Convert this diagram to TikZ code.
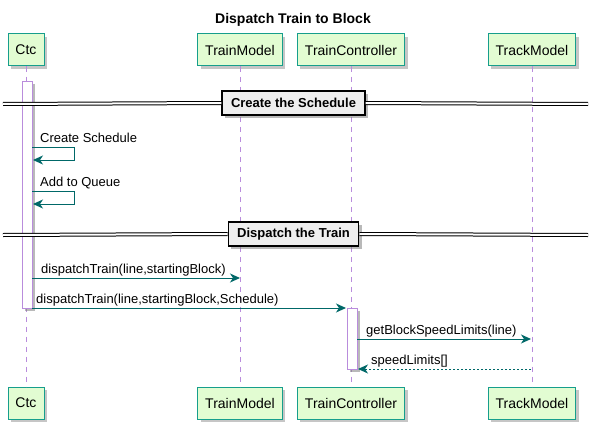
\documentclass[tikz,border=0pt]{standalone}
\usepackage{fontspec}
\setmainfont{Liberation Sans}
\usetikzlibrary{arrows.meta, positioning, shadows}
\definecolor{boxfill}{RGB}{226,252,210}
\definecolor{boxline}{RGB}{22,158,140}
\definecolor{msgline}{RGB}{0,104,104}
\definecolor{lifeline}{RGB}{185,140,220}
\definecolor{sepfill}{RGB}{238,238,238}

\begin{document}
\begin{tikzpicture}[x=1pt, y=-1pt,
  part/.style={draw=boxline, fill=boxfill, line width=1pt, minimum height=32pt, inner xsep=7.5pt,
    font=\fontsize{14}{16}\selectfont, drop shadow={shadow xshift=3pt, shadow yshift=-3pt, opacity=0.45}},
  life/.style={lifeline, line width=0.8pt, dash pattern=on 5pt off 5pt},
  actbar/.style={draw=lifeline, fill=white, line width=0.8pt, minimum width=10pt, inner sep=0pt,
    drop shadow={shadow xshift=3pt, shadow yshift=-3pt, opacity=0.55}},
  sepbox/.style={draw=black, fill=sepfill, line width=1.2pt, minimum height=24pt, inner xsep=9pt,
    font=\fontsize{13}{15}\selectfont\bfseries, drop shadow={shadow xshift=3pt, shadow yshift=-3pt, opacity=0.55}},
  sepline/.style={double, double distance=2pt, line width=1pt},
  msg/.style={msgline, line width=1pt, -{Stealth[length=10pt, width=9pt, inset=3pt]}},
  ret/.style={msg, dash pattern=on 2pt off 2pt},
  lbl/.style={anchor=base west, inner sep=0pt, font=\fontsize{13}{15}\selectfont}]
  \useasboundingbox (0,0) rectangle (594,428);
  \node[font=\fontsize{14}{16}\selectfont\bfseries] (title) at (293,20) {Dispatch Train to Block};

  \node[part] (ctcTop) at (26,50) {Ctc};
  \node[part] (tmTop) at (240,50) {TrainModel};
  \node[part] (tcTop) at (351,50) {TrainController};
  \node[part] (trTop) at (532,50) {TrackModel};
  \node[part] (ctcBot) at (26,403) {Ctc};
  \node[part] (tmBot) at (240,403) {TrainModel};
  \node[part] (tcBot) at (351,403) {TrainController};
  \node[part] (trBot) at (532,403) {TrackModel};
  \foreach \p in {ctc,tm,tc,tr}
    \draw[life] (\p Top) -- (\p Bot);

  \node[actbar, minimum height=227pt] (ctcAct) at (27,194.5) {};
  \node[actbar, minimum height=61pt] (tcAct) at (352,338.5) {};

  \node[sepbox] (sep1) at (293.5,103) {Create the Schedule};
  \coordinate (sep1L) at (3,104); \coordinate (sep1R) at (588,104);
  \draw[sepline] (sep1L) -- (sep1.west); \draw[sepline] (sep1.east) -- (sep1R);

  \coordinate (s1a) at (32,147); \coordinate (s1b) at (33,160);
  \draw[msg] (s1a) -- ++(42,0) |- (s1b);
  \node[lbl] (s1lbl) at (40,142) {Create Schedule};
  \coordinate (s2a) at (32,191); \coordinate (s2b) at (33,204);
  \draw[msg] (s2a) -- ++(42,0) |- (s2b);
  \node[lbl] (s2lbl) at (40,186) {Add to Queue};

  \node[sepbox] (sep2) at (293.5,234) {Dispatch the Train};
  \coordinate (sep2L) at (3,235); \coordinate (sep2R) at (588,235);
  \draw[sepline] (sep2L) -- (sep2.west); \draw[sepline] (sep2.east) -- (sep2R);

  \coordinate (m1a) at (32,278); \coordinate (m1b) at (240,278);
  \draw[msg] (m1a) -- (m1b);
  \node[lbl] (m1lbl) at (41,273) {dispatchTrain(line,startingBlock)};
  \coordinate (m2a) at (32,308); \coordinate (m2b) at (346,308);
  \draw[msg] (m2a) -- (m2b);
  \node[lbl] (m2lbl) at (36,303) {dispatchTrain(line,startingBlock,Schedule)};
  \coordinate (m3a) at (357,339); \coordinate (m3b) at (531,339);
  \draw[msg] (m3a) -- (m3b);
  \node[lbl] (m3lbl) at (366,334) {getBlockSpeedLimits(line)};
  \coordinate (m4a) at (531,369); \coordinate (m4b) at (358,369);
  \draw[ret] (m4a) -- (m4b);
  \node[lbl] (m4lbl) at (371,364) {speedLimits[]};
\end{tikzpicture}
\end{document}
